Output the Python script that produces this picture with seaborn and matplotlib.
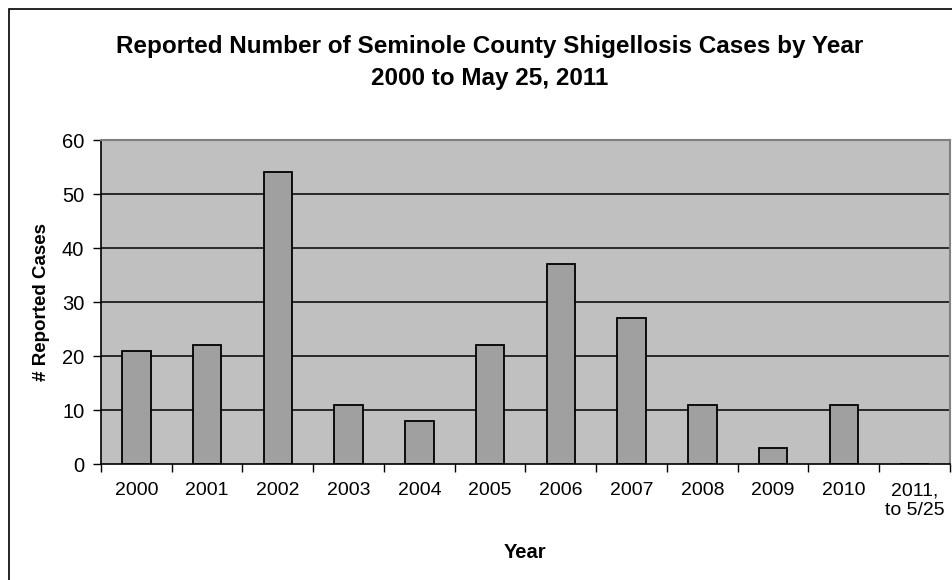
import matplotlib
matplotlib.use("Agg")
import matplotlib.pyplot as plt
from matplotlib.patches import Rectangle
import seaborn as sns
import pandas as pd
import numpy as np

years = ["2000", "2001", "2002", "2003", "2004", "2005", "2006", "2007",
         "2008", "2009", "2010", "2011,\nto 5/25"]
cases = [21, 22, 54, 11, 8, 22, 37, 27, 11, 3, 11, 0]
y_ticks = [0, 10, 20, 30, 40, 50, 60]

title = "Reported Number of Seminole County Shigellosis Cases by Year\n2000 to May 25, 2011"
x_label = "Year"
y_label = "# Reported Cases"

sns.set_theme(style="white")
plt.rcParams["font.family"] = ["Liberation Sans", "DejaVu Sans"]
plt.rcParams["text.color"] = "black"
plt.rcParams["axes.labelcolor"] = "black"

df = pd.DataFrame({"year": years, "cases": cases})

fig = plt.figure(figsize=(9.53, 5.8), dpi=100)
ax = fig.add_axes([101 / 953, 1 - 464 / 580, (950 - 101) / 953, (464 - 140) / 580])
ax.set_facecolor("#C0C0C0")

# horizontal grid lines
for v in y_ticks[1:-1]:
    ax.axhline(v, color="black", linewidth=1.1, zorder=0.5)

sns.barplot(data=df, x="year", y="cases", ax=ax, width=0.4, color="#A0A0A0",
            edgecolor="black", linewidth=1.3, saturation=1, zorder=2)

ax.set_xlim(-0.5, len(years) - 0.5)
ax.set_ylim(0, 60)
ax.set_yticks(y_ticks)
ax.set_yticklabels([str(v) for v in y_ticks])

# category labels at centers, tick marks at boundaries
ax.set_xticks(np.arange(len(years) + 1) - 0.5)
ax.set_xticklabels([])
ax.set_xticks(np.arange(len(years)), minor=True)
ax.set_xticklabels(years, minor=True, linespacing=1.2)
ax.tick_params(axis="x", which="major", direction="out", length=6, width=1, color="black", bottom=True)
ax.tick_params(axis="x", which="minor", length=0, pad=13, labelsize=14, labelcolor="black")
ax.tick_params(axis="y", direction="out", length=6, width=1, color="black", left=True, pad=6,
               labelsize=14.5, labelcolor="black")

for side in ["left", "bottom"]:
    ax.spines[side].set_color("black")
    ax.spines[side].set_linewidth(1.2)
for side in ["top", "right"]:
    ax.spines[side].set_color("#808080")
    ax.spines[side].set_linewidth(1.5)

ax.set_xlabel(x_label, fontsize=14.5, fontweight="bold")
ax.xaxis.set_label_coords(0.5, -(552 - 464) / 324)
ax.set_ylabel(y_label, fontsize=13.5, fontweight="bold")
ax.yaxis.set_label_coords(-(101 - 42) / 849, 0.5)
ax.xaxis.label.set_va("center")
ax.yaxis.label.set_va("center")

fig.text(490 / 953, 1 - 63 / 580, title, ha="center", va="center", fontsize=17.5,
         fontweight="bold", linespacing=1.5, color="black")

# outer chart border
fig.patches.append(Rectangle((9.5 / 953, -0.1), 1.2, 1 - 9.5 / 580 + 0.1,
                             transform=fig.transFigure, fill=False,
                             edgecolor="black", linewidth=1.2, clip_on=False))

fig.savefig("out.png", dpi=100)
